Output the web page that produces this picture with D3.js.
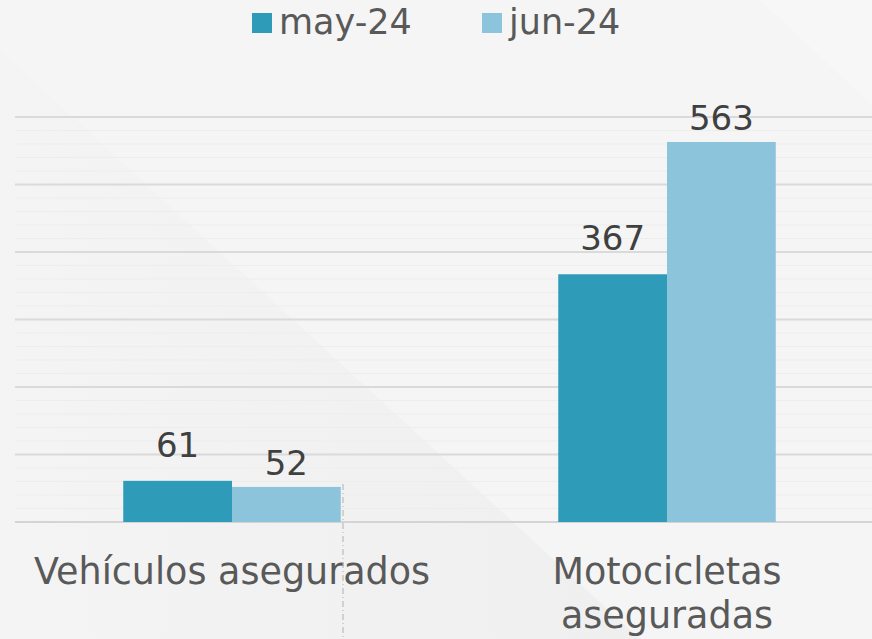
<!DOCTYPE html>
<html>
<head>
<meta charset="utf-8">
<script src="https://cdn.jsdelivr.net/npm/d3@7"></script>
<style>
  html, body { margin: 0; padding: 0; background: #f5f5f5; }
  svg { display: block; font-family: "DejaVu Sans", sans-serif; }
</style>
</head>
<body>
<svg id="chart" width="872" height="639"></svg>
<script>
const categories = ["Vehículos asegurados", "Motocicletas asegurados"];
const categoryLines = [["Vehículos asegurados"], ["Motocicletas", "aseguradas"]];
const seriesNames = ["may-24", "jun-24"];
const may24 = [61, 367];
const jun24 = [52, 563];
const colors = ["#2e9bb8", "#8bc4db"];
const yTicks = [0, 100, 200, 300, 400, 500, 600];

const svg = d3.select('#chart');
const width = +svg.attr('width');
const height = +svg.attr('height');

// background shading
const defs = svg.append('defs');
const grad = defs.append('linearGradient')
  .attr('id', 'shade')
  .attr('x1', '0%').attr('y1', '0%')
  .attr('x2', '100%').attr('y2', '0%');
grad.append('stop').attr('offset', '0%').attr('stop-color', '#f4f4f4');
grad.append('stop').attr('offset', '100%').attr('stop-color', '#efefef');

svg.append('rect').attr('width', width).attr('height', height).attr('fill', '#f5f5f5');
svg.append('polygon')
  .attr('points', '0,50 640,639 0,639')
  .attr('fill', 'url(#shade)');
svg.append('polygon')
  .attr('points', '760,0 872,0 872,105')
  .attr('fill', '#f7f7f7');

const margin = {left: 15};
const baseY = 522;

const x = d3.scaleBand()
  .domain(categories)
  .range([14.5, 884.5])
  .paddingInner(0.5)
  .paddingOuter(0.25);

const xs = d3.scaleBand()
  .domain(seriesNames)
  .range([0, x.bandwidth()]);

const y = d3.scaleLinear()
  .domain([0, 600])
  .range([baseY, 117]);

// minor gridlines
const minor = d3.range(0, 600, 20).filter(v => v % 100 !== 0);
svg.append('g')
  .selectAll('line')
  .data(minor)
  .enter()
  .append('line')
  .attr('x1', margin.left).attr('x2', width)
  .attr('y1', d => y(d)).attr('y2', d => y(d))
  .attr('stroke', '#ededed')
  .attr('stroke-width', 1);

// major gridlines
svg.append('g')
  .selectAll('line')
  .data(yTicks)
  .enter()
  .append('line')
  .attr('x1', margin.left).attr('x2', width)
  .attr('y1', d => y(d)).attr('y2', d => y(d))
  .attr('stroke', d => d === 0 ? '#d4d4d4' : '#dadada')
  .attr('stroke-width', 2);

const series = [may24, jun24];
const labelGap = [24, 12];

const group = svg.append('g')
  .selectAll('g')
  .data(categories)
  .enter()
  .append('g')
  .attr('transform', d => `translate(${x(d)},0)`);

group.selectAll('rect')
  .data((d, i) => seriesNames.map((s, j) => ({s, j, v: series[j][i]})))
  .enter()
  .append('rect')
  .attr('x', d => xs(d.s))
  .attr('width', xs.bandwidth())
  .attr('y', d => y(d.v))
  .attr('height', d => baseY - y(d.v))
  .attr('fill', d => colors[d.j]);

group.selectAll('text.val')
  .data((d, i) => seriesNames.map((s, j) => ({s, j, v: series[j][i]})))
  .enter()
  .append('text')
  .attr('class', 'val')
  .attr('x', d => xs(d.s) + xs.bandwidth() / 2)
  .attr('y', d => y(d.v) - labelGap[d.j])
  .attr('text-anchor', 'middle')
  .attr('font-size', 34)
  .attr('fill', '#404040')
  .text(d => d.v);

// category labels
group.each(function (d, i) {
  const t = d3.select(this).append('text')
    .attr('text-anchor', 'middle')
    .attr('font-size', 36.5)
    .attr('fill', '#595959');
  categoryLines[i].forEach((line, k) => {
    t.append('tspan')
      .attr('x', x.bandwidth() / 2)
      .attr('y', 584 + k * 44)
      .text(line);
  });
});

// dashed marker line
svg.append('line')
  .attr('x1', 343).attr('x2', 343)
  .attr('y1', 484).attr('y2', height)
  .attr('stroke', '#b0b0b0')
  .attr('stroke-width', 1)
  .attr('stroke-dasharray', '6,3,1,3');

// legend
const legend = svg.append('g');
const legendX = [252, 482];
seriesNames.forEach((s, j) => {
  legend.append('rect')
    .attr('x', legendX[j]).attr('y', 13)
    .attr('width', 20).attr('height', 20)
    .attr('fill', colors[j]);
  legend.append('text')
    .attr('x', legendX[j] + 27).attr('y', 34)
    .attr('font-size', 35)
    .attr('fill', '#595959')
    .text(s);
});
</script>
</body>
</html>
